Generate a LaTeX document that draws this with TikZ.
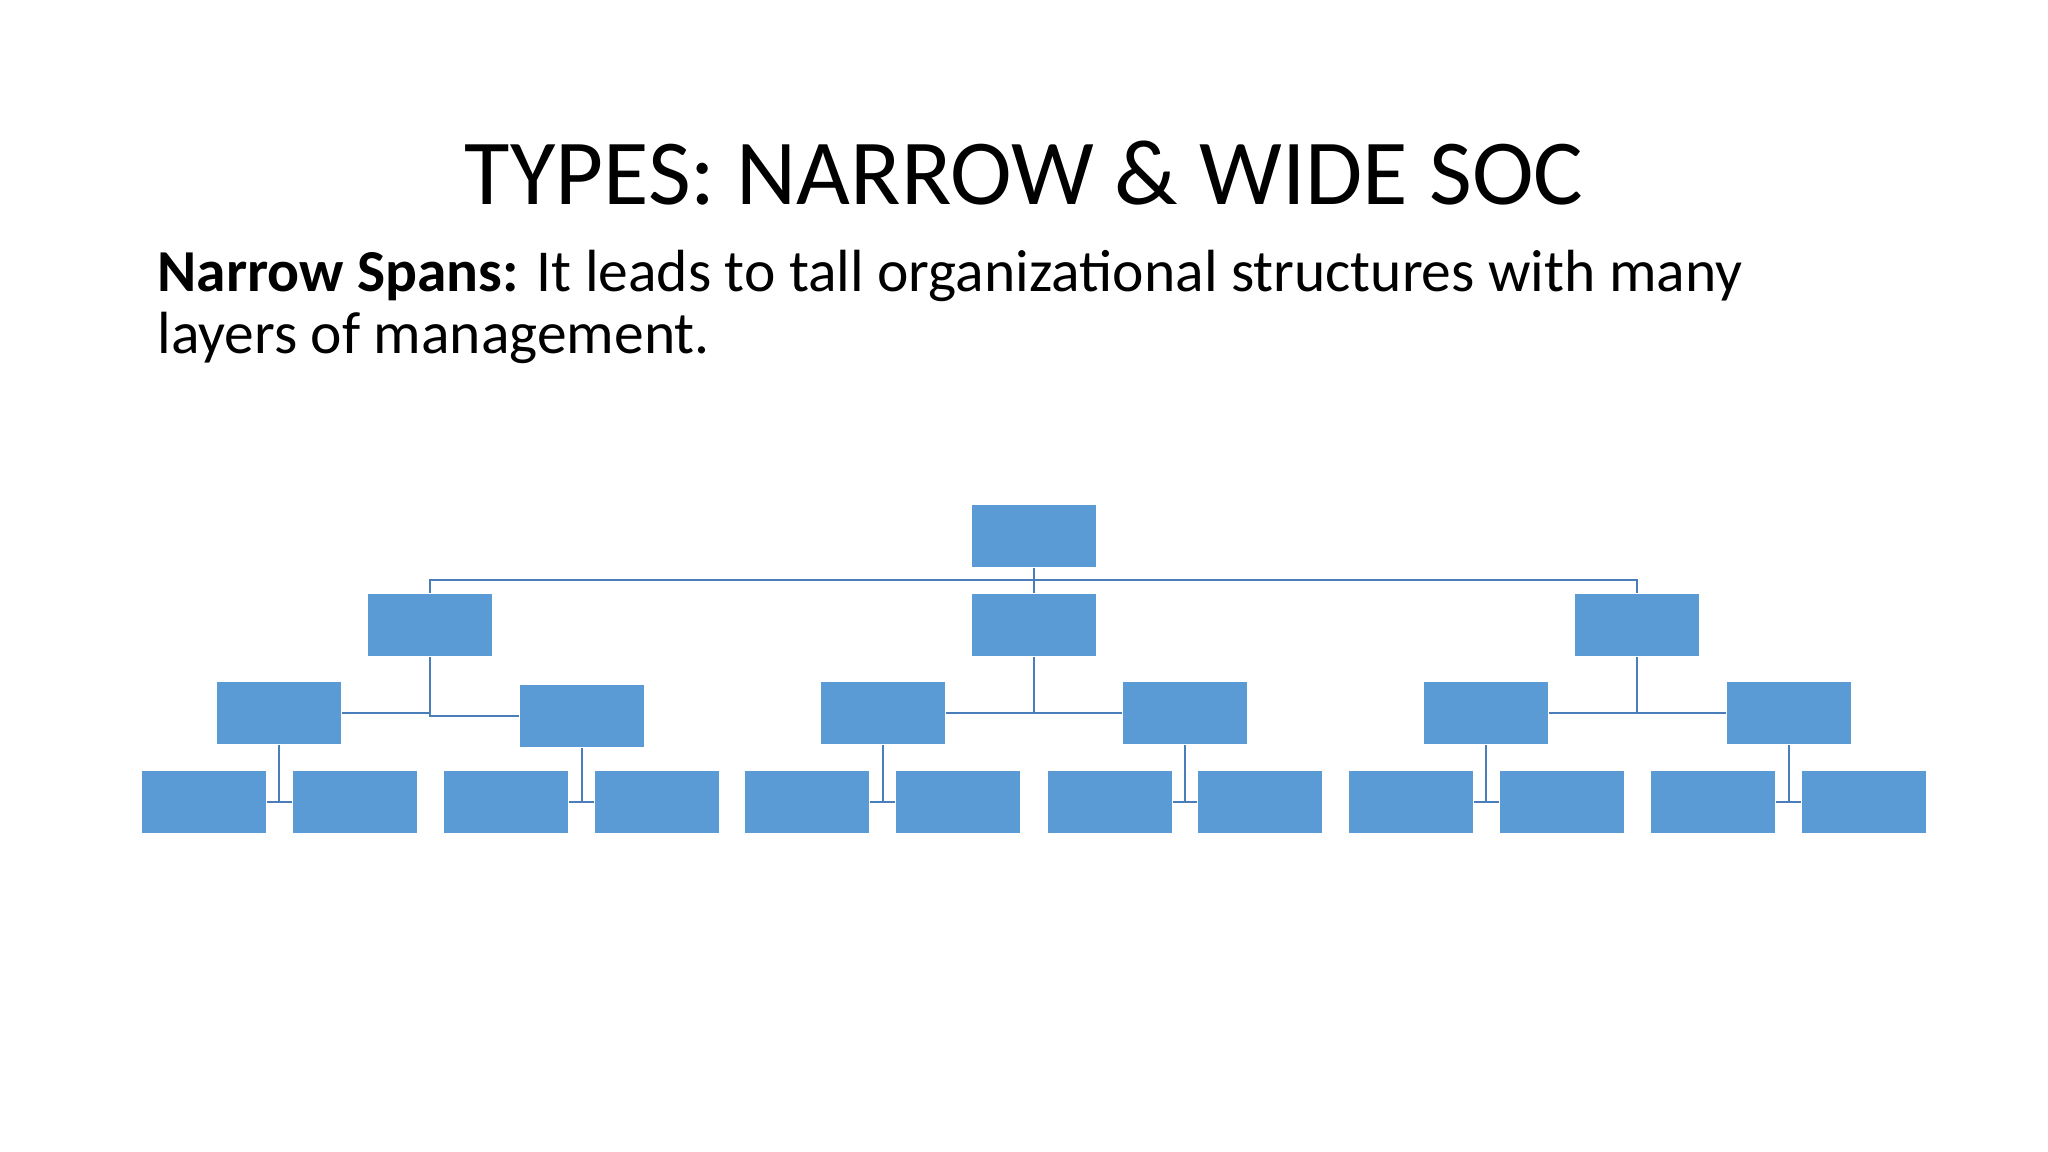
\documentclass[tikz,border=0pt]{standalone}
\usepackage{fontspec}
\setmainfont{Carlito}
\definecolor{boxblue}{HTML}{5B9BD5}
\definecolor{lineblue}{HTML}{4A7EBB}
\tikzset{
    post/.style={fill=boxblue, draw=white, line width=0.6pt, inner sep=0pt,
                 minimum width=58.6pt, minimum height=29.4pt},
    link/.style={draw=lineblue, line width=0.95pt}
}
\begin{document}
\begin{tikzpicture}[x=0.46875pt, y=-0.46875pt]
    \useasboundingbox (0,0) rectangle (2048,1152);

    \node[anchor=base, font=\fontsize{43.6}{46}\selectfont] (title) at (1024,205) {TYPES: NARROW \& WIDE SOC};
    \node[anchor=base west, align=left, inner sep=0pt, font=\fontsize{27.9}{28.8}\selectfont] (text) at (157,353)
        {\textbf{Narrow Spans:} It leads to tall organizational structures with many\\layers of management.};

    % top
    \node[post] (top) at (1034,536) {};

    % first level
    \node[post] (a) at (430,625) {};
    \node[post] (b) at (1034,625) {};
    \node[post] (c) at (1637,625) {};

    % second level
    \node[post] (a1) at (279,713) {};
    \node[post] (a2) at (582,716) {};
    \node[post] (b1) at (883,713) {};
    \node[post] (b2) at (1185,713) {};
    \node[post] (c1) at (1486,713) {};
    \node[post] (c2) at (1789,713) {};

    % third level
    \node[post] (a11) at (204,802) {};
    \node[post] (a12) at (355,802) {};
    \node[post] (a21) at (506,802) {};
    \node[post] (a22) at (657,802) {};
    \node[post] (b11) at (807,802) {};
    \node[post] (b12) at (958,802) {};
    \node[post] (b21) at (1110,802) {};
    \node[post] (b22) at (1260,802) {};
    \node[post] (c11) at (1411,802) {};
    \node[post] (c12) at (1562,802) {};
    \node[post] (c21) at (1713,802) {};
    \node[post] (c22) at (1864,802) {};

    % connectors
    \coordinate (bar) at (1034,580);
    \draw[link] (top.south) -- (b.north);
    \draw[link] (a.north) |- (bar) -| (c.north);

    \draw[link] (a.south) |- (a1.east);
    \draw[link] (a.south) |- (a2.west);
    \draw[link] (b.south) |- (b1.east);
    \draw[link] (b.south) |- (b2.west);
    \draw[link] (c.south) |- (c1.east);
    \draw[link] (c.south) |- (c2.west);

    \draw[link] (a1.south) -- (a1.south |- a11.east);
    \draw[link] (a11.east) -- (a12.west);% a1
    \draw[link] (a2.south) -- (a2.south |- a21.east);
    \draw[link] (a21.east) -- (a22.west);% a2
    \draw[link] (b1.south) -- (b1.south |- b11.east);
    \draw[link] (b11.east) -- (b12.west);% b1
    \draw[link] (b2.south) -- (b2.south |- b21.east);
    \draw[link] (b21.east) -- (b22.west);% b2
    \draw[link] (c1.south) -- (c1.south |- c11.east);
    \draw[link] (c11.east) -- (c12.west);% c1
    \draw[link] (c2.south) -- (c2.south |- c21.east);
    \draw[link] (c21.east) -- (c22.west);% c2
\end{tikzpicture}
\end{document}
